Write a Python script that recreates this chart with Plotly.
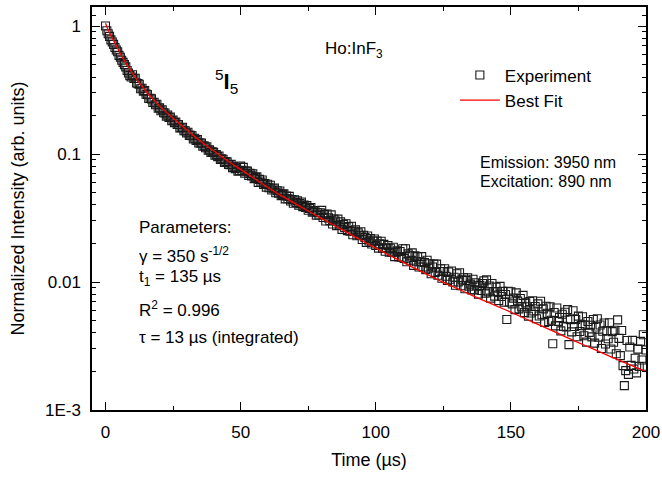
import numpy as np
import plotly.graph_objects as go

# ---- data ----
exp_time = np.arange(0, 200.5, 0.5)  # sampling grid, 0.5 us
exp_int = [
    # 0 - 9.5
    1.00, 0.92, 0.87, 0.83, 0.78, 0.75, 0.72, 0.68, 0.65, 0.63,
    0.59, 0.57, 0.54, 0.52, 0.50, 0.48, 0.45, 0.43, 0.41, 0.40,
    # 10 - 19.5
    0.417, 0.389, 0.391, 0.359, 0.355, 0.351, 0.324, 0.327, 0.310, 0.313,
    0.294, 0.292, 0.272, 0.273, 0.270, 0.253, 0.254, 0.243, 0.245, 0.228,
    # 20 - 29.5
    0.230, 0.218, 0.222, 0.210, 0.209, 0.198, 0.202, 0.193, 0.195, 0.182,
    0.184, 0.176, 0.178, 0.170, 0.170, 0.160, 0.161, 0.162, 0.152, 0.152,
    # 30 - 39.5
    0.146, 0.148, 0.140, 0.140, 0.139, 0.131, 0.133, 0.128, 0.130, 0.122,
    0.122, 0.122, 0.115, 0.116, 0.112, 0.114, 0.107, 0.108, 0.103, 0.104,
    # 40 - 49.5
    0.103, 0.0978, 0.0989, 0.0954, 0.0966, 0.0909, 0.0916, 0.0911, 0.0859, 0.0874,
    0.0869, 0.0828, 0.0826, 0.0830, 0.0783, 0.0794, 0.0769, 0.0782, 0.0736, 0.0741,
    # 50 - 59.5
    0.0804, 0.0746, 0.0787, 0.0710, 0.0736, 0.0736, 0.0681, 0.0706, 0.0675, 0.0700,
    0.0643, 0.0655, 0.0664, 0.0601, 0.0634, 0.0604, 0.0627, 0.0578, 0.0589, 0.0551,
    # 60 - 69.5
    0.0581, 0.0546, 0.0571, 0.0523, 0.0535, 0.0543, 0.0498, 0.0517, 0.0495, 0.0514,
    0.0473, 0.0484, 0.0488, 0.0446, 0.0470, 0.0447, 0.0467, 0.0430, 0.0441, 0.0413,
    # 70 - 79.5
    0.0440, 0.0418, 0.0432, 0.0399, 0.0412, 0.0422, 0.0388, 0.0400, 0.0383, 0.0395,
    0.0364, 0.0376, 0.0382, 0.0352, 0.0357, 0.0362, 0.0333, 0.0348, 0.0334, 0.0348,
    # 80 - 89.5
    0.0363, 0.0319, 0.0338, 0.0300, 0.0340, 0.0317, 0.0302, 0.0335, 0.0284, 0.0311,
    0.0300, 0.0276, 0.0310, 0.0279, 0.0295, 0.0258, 0.0282, 0.0267, 0.0285, 0.0252,
    # 90 - 99.5
    0.0271, 0.0249, 0.0273, 0.0234, 0.0250, 0.0256, 0.0230, 0.0242, 0.0232, 0.0247,
    0.0215, 0.0232, 0.0223, 0.0204, 0.0229, 0.0209, 0.0219, 0.0198, 0.0209, 0.0217,
    # 100 - 109.5
    0.0193, 0.0209, 0.0184, 0.0199, 0.0208, 0.0184, 0.0197, 0.0174, 0.0185, 0.0193,
    0.0171, 0.0182, 0.0171, 0.0187, 0.0158, 0.0171, 0.0175, 0.0157, 0.0173, 0.0156,
    # 110 - 119.5
    0.0182, 0.0153, 0.0182, 0.0144, 0.0166, 0.0160, 0.0148, 0.0169, 0.0135, 0.0160,
    0.0144, 0.0158, 0.0131, 0.0144, 0.0158, 0.0131, 0.0142, 0.0125, 0.0148, 0.0128,
    # 120 - 129.5
    0.0139, 0.0116, 0.0131, 0.0138, 0.0119, 0.0138, 0.0113, 0.0121, 0.0127, 0.0107,
    0.0121, 0.0127, 0.0111, 0.0103, 0.0120, 0.0105, 0.0122, 0.0100, 0.0109, 0.00944,
    # 130 - 139.5
    0.0116, 0.0100, 0.0118, 0.00935, 0.0104, 0.0108, 0.00885, 0.0103, 0.0108, 0.00929,
    0.00963, 0.00869, 0.0105, 0.00870, 0.00988, 0.00934, 0.00804, 0.00942, 0.00858, 0.00974,
    # 140 - 149.5
    0.0102, 0.00817, 0.0104, 0.00838, 0.00930, 0.00748, 0.00975, 0.00840, 0.00776, 0.00912,
    0.00842, 0.00718, 0.00925, 0.00770, 0.00845, 0.00696, 0.00799, 0.00510, 0.00848, 0.00698,
    # 150 - 159.5
    0.00839, 0.00675, 0.00749, 0.00609, 0.00822, 0.00709, 0.00617, 0.00743, 0.00640, 0.00787,
    0.00577, 0.00687, 0.00641, 0.00540, 0.00704, 0.00572, 0.00713, 0.00593, 0.00643, 0.00517,
    # 160 - 169.5
    0.00675, 0.00542, 0.00707, 0.00555, 0.00617, 0.00484, 0.00646, 0.00570, 0.00491, 0.00640,
    0.00503, 0.00329, 0.00578, 0.00454, 0.00627, 0.00493, 0.00528, 0.00415, 0.00560, 0.00450,
    # 170 - 179.5
    0.00581, 0.00446, 0.00609, 0.00324, 0.00508, 0.00408, 0.00597, 0.00449, 0.00510, 0.00374,
    0.00541, 0.00411, 0.00456, 0.00536, 0.00380, 0.00462, 0.00339, 0.00491, 0.00404, 0.00459,
    # 180 - 189.5
    0.00373, 0.00510, 0.00333, 0.00445, 0.00517, 0.00371, 0.00462, 0.00302, 0.00412, 0.00479,
    0.00328, 0.00418, 0.00360, 0.00481, 0.00300, 0.00410, 0.00338, 0.00420, 0.00275, 0.00506,
    # 190 - 200
    0.00363, 0.00266, 0.00418, 0.00222, 0.00155, 0.00203, 0.00349, 0.00190, 0.00311, 0.00223,
    0.00350, 0.00209, 0.00254, 0.00195, 0.00299, 0.00219, 0.00344, 0.00246, 0.00387, 0.00220,
    0.00294,
]

fit_time = [0, 1, 2, 3, 4, 5, 6, 7, 8, 9, 10, 12, 14, 16, 18, 20, 25, 30, 35, 40,
            45, 50, 55, 60, 65, 70, 75, 80, 85, 90, 95, 100, 105, 110, 115, 120,
            125, 130, 135, 140, 145, 150, 155, 160, 165, 170, 175, 180, 185, 190,
            195, 200]
fit_int = [1.05, 0.93, 0.84, 0.77, 0.70, 0.64, 0.58, 0.537, 0.495, 0.459, 0.427,
           0.372, 0.329, 0.292, 0.263, 0.237, 0.191, 0.155, 0.127, 0.106,
           0.0891, 0.0759, 0.0646, 0.0550, 0.0473, 0.0412, 0.0359, 0.0313,
           0.0274, 0.0240, 0.0210, 0.0184, 0.0162, 0.0143, 0.0126, 0.0112,
           0.00993, 0.00891, 0.00798, 0.00716, 0.00646, 0.00581, 0.00521,
           0.00467, 0.00419, 0.00375, 0.00336, 0.00303, 0.00272, 0.00245,
           0.00221, 0.00199]

y_tickvals = [0.001, 0.01, 0.1, 1]
y_ticktext = ["1E-3", "0.01", "0.1", "1"]
y_minor_ticks = [m * d for d in (0.001, 0.01, 0.1) for m in range(2, 10)] + [1.2, 1.4]
x_tickvals = [0, 50, 100, 150, 200]

FONT = "Liberation Sans, Arial, sans-serif"

fig = go.Figure()
fig.add_trace(go.Scatter(
    x=exp_time, y=exp_int, mode="markers", name="Experiment",
    marker=dict(symbol="square-open", size=8, color="#1a1a1a",
                line=dict(width=1.1, color="#1a1a1a")),
))
fig.add_trace(go.Scatter(
    x=fit_time, y=fit_int, mode="lines", name="Best Fit",
    line=dict(color="#ff0000", width=1.3, shape="spline", smoothing=0.6),
))

axis_common = dict(
    showline=True, linecolor="black", linewidth=1.5, mirror="allticks",
    ticks="inside", ticklen=8, tickwidth=1.2, tickcolor="black",
    showgrid=False, zeroline=False, automargin=False,
    tickfont=dict(family=FONT, size=17, color="black"),
    ticklabelstandoff=6,
)

fig.update_xaxes(
    range=[-5, 200], tickvals=x_tickvals,
    title=dict(text="Time (µs)", font=dict(family=FONT, size=18, color="black"), standoff=12),
    minor=dict(ticks="inside", ticklen=4, dtick=25, tickcolor="black", tickwidth=1.2, showgrid=False),
    **axis_common,
)
fig.update_yaxes(
    type="log", range=[-3, 0.149], tickvals=y_tickvals, ticktext=y_ticktext,
    title=dict(text="Normalized Intensity (arb. units)", font=dict(family=FONT, size=18, color="black"), standoff=16),
    minor=dict(ticks="inside", ticklen=4, tickvals=y_minor_ticks, tickcolor="black",
               tickwidth=1.2, showgrid=False),
    **axis_common,
)

def txt(x, y, s, size=17, anchor="left"):
    fig.add_annotation(x=x, y=y, xref="paper", yref="paper", text=s, showarrow=False,
                       xanchor=anchor, yanchor="middle",
                       font=dict(family=FONT, size=size, color="black"))

txt(0.417, 0.893, "Ho:InF<sub>3</sub>")
txt(0.218, 0.814, "<sup>5</sup><b>I</b><sub>5</sub>", size=22)
txt(0.697, 0.615, "Emission: 3950 nm", size=16)
txt(0.697, 0.568, "Excitation: 890 nm", size=16)
txt(0.081, 0.454, "Parameters:")
txt(0.081, 0.385, "γ = 350 s<sup>-1/2</sup>")
txt(0.081, 0.328, "t<sub>1</sub> = 135 µs")
txt(0.081, 0.250, "R<sup>2</sup> = 0.996")
txt(0.081, 0.179, "τ = 13 µs (integrated)")

fig.update_layout(
    width=662, height=477,
    margin=dict(l=92, r=16, t=7, b=67),
    paper_bgcolor="white", plot_bgcolor="white",
    font=dict(family=FONT, size=17, color="black"),
    legend=dict(x=0.655, y=0.875, xanchor="left", yanchor="top",
                bgcolor="rgba(0,0,0,0)", font=dict(family=FONT, size=17, color="black"),
                itemwidth=40, tracegroupgap=0),
    showlegend=True,
)

fig.write_html("out.html", config={"displayModeBar": False},
               post_script="document.body.style.margin='0';document.body.style.overflow='hidden';")
